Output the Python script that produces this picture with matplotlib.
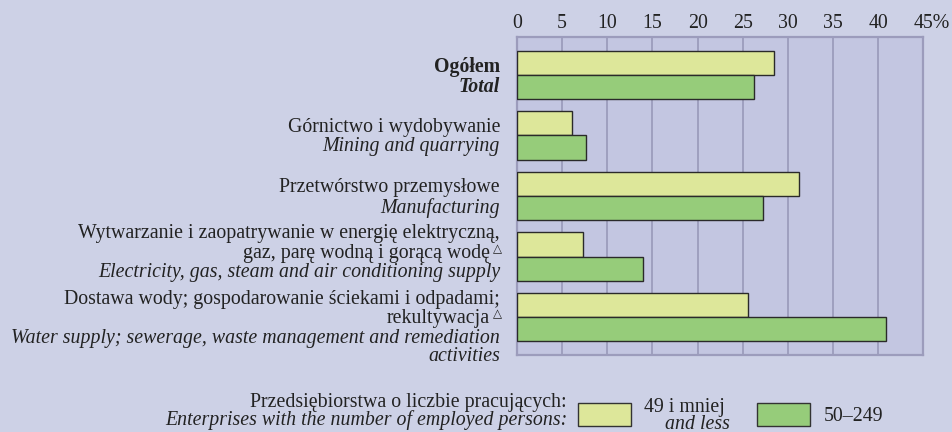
#!/usr/bin/env python3
"""Share of enterprises by section, grouped horizontal bars (two size classes)."""

import matplotlib

matplotlib.use("Agg")
import matplotlib.pyplot as plt
import matplotlib.transforms as mtransforms
from matplotlib.patches import Rectangle

# --- data ---
# each category: list of (text, italic, has_triangle)
LABELS = [
    [("Ogółem", False, False), ("Total", True, False)],
    [("Górnictwo i wydobywanie", False, False), ("Mining and quarrying", True, False)],
    [("Przetwórstwo przemysłowe", False, False), ("Manufacturing", True, False)],
    [
        ("Wytwarzanie i zaopatrywanie w energię elektryczną,", False, False),
        ("gaz, parę wodną i gorącą wodę", False, True),
        ("Electricity, gas, steam and air conditioning supply", True, False),
    ],
    [
        ("Dostawa wody; gospodarowanie ściekami i odpadami;", False, False),
        ("rekultywacja", False, True),
        ("Water supply; sewerage, waste management and remediation", True, False),
        ("activities", True, False),
    ],
]
SMALL = [28.5, 6.1, 31.2, 7.3, 25.6]   # 49 i mniej / and less
MEDIUM = [26.3, 7.6, 27.3, 13.9, 40.9]  # 50-249
XTICKS = [0, 5, 10, 15, 20, 25, 30, 35, 40, 45]
XTICK_LABELS = ["0", "5", "10", "15", "20", "25", "30", "35", "40", "45%"]
LEGEND_TITLE = ["Przedsiębiorstwa o liczbie pracujących:",
                "Enterprises with the number of employed persons:"]
# ------------

# baseline offsets (px) of label lines, relative to each group centre
LINE_OFFSETS = [
    [-3, 17],
    [-3.5, 15.5],
    [-4, 17],
    [-18.5, 1.5, 20.5],
    [-13, 6, 26, 44],
]

W, H = 952, 432
BG = "#cdd1e6"
AX_BG = "#c3c6e1"
GRID = "#9c9cbc"
YELLOW = "#dde79a"
GREEN = "#96cc7a"
EDGE = "#2a2a2a"
TXT = "#222222"
FONT = "Liberation Serif"
FS = 14.3

plt.rcParams["font.family"] = FONT


def px(x, y):
    return x / W, 1 - y / H


fig = plt.figure(figsize=(W / 100, H / 100), dpi=100, facecolor=BG)
ax = fig.add_axes([517 / W, 1 - 355.3 / H, 406.3 / W, 318.3 / H])
ax.set_facecolor(AX_BG)

h = 0.397
ys = list(range(len(SMALL)))
ax.barh([y - h / 2 for y in ys], SMALL, height=h, color=YELLOW,
        edgecolor=EDGE, linewidth=1.0, zorder=3)
ax.barh([y + h / 2 for y in ys], MEDIUM, height=h, color=GREEN,
        edgecolor=EDGE, linewidth=1.0, zorder=3)

ax.set_xlim(0, 45)
ax.set_ylim(4.633, -0.628)
ax.set_xticks(XTICKS)
ax.set_xticklabels(XTICK_LABELS, fontsize=FS)
ax.xaxis.tick_top()
ax.tick_params(axis="x", length=0, pad=3, colors=TXT)
ax.set_yticks([])
ax.grid(axis="x", color=GRID, linewidth=1.3, zorder=1)
for s in ax.spines.values():
    s.set_color(GRID)
    s.set_linewidth(1.6)
# the "%" hangs to the right of the last tick, number stays centred
last = ax.get_xticklabels()[-1]
last.set_transform(last.get_transform()
                   + mtransforms.ScaledTranslation(8 / 100, 0, fig.dpi_scale_trans))

# category labels, right aligned left of the axes
X_RIGHT = 500
for i, lines in enumerate(LABELS):
    yc = H - ax.transData.transform((0, i))[1]
    for (txt, italic, tri), off in zip(lines, LINE_OFFSETS[i]):
        yb = yc + off
        xr = X_RIGHT - 10 if tri else X_RIGHT
        fig.text(*px(xr, yb), txt, ha="right", va="baseline", fontsize=FS,
                 style="italic" if italic else "normal",
                 fontweight="bold" if i == 0 else "normal", color=TXT)
        if tri:
            fig.text(*px(X_RIGHT + 2, yb - 6), "△", ha="right", va="baseline",
                     fontsize=8.5, family="DejaVu Sans", color=TXT)

# legend
fig.text(*px(567, 407), LEGEND_TITLE[0], ha="right", va="baseline",
         fontsize=FS, color=TXT)
fig.text(*px(567, 425), LEGEND_TITLE[1], ha="right", va="baseline",
         fontsize=FS, style="italic", color=TXT)
for x0, col in [(578, YELLOW), (757, GREEN)]:
    fig.patches.append(Rectangle(px(x0, 426), 53 / W, 23 / H,
                                 transform=fig.transFigure, facecolor=col,
                                 edgecolor="#333333", linewidth=1.0))
fig.text(*px(644, 412), "49 i mniej", ha="left", va="baseline",
         fontsize=FS, color=TXT)
fig.text(*px(730, 429), "and less", ha="right", va="baseline",
         fontsize=FS, style="italic", color=TXT)
fig.text(*px(824, 421), "50–249", ha="left", va="baseline",
         fontsize=FS, color=TXT)

fig.savefig("out.png", dpi=100, facecolor=BG)
